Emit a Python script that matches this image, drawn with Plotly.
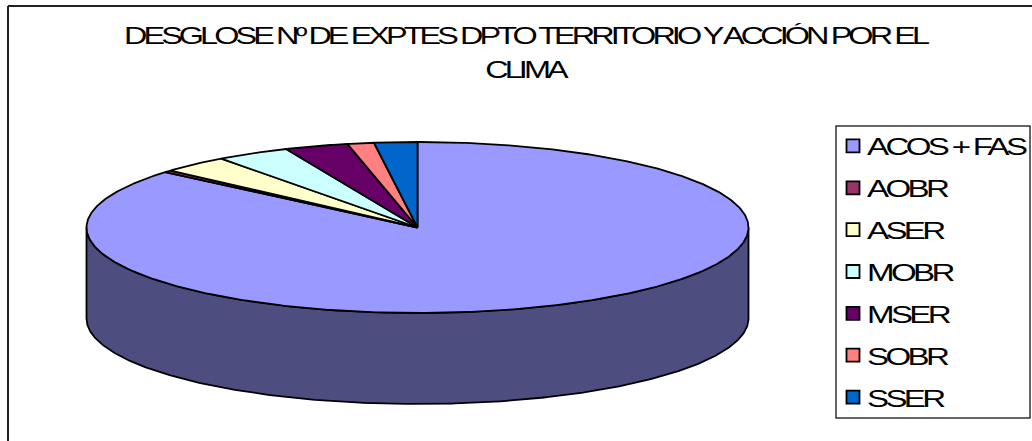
import numpy as np
import plotly.graph_objects as go

categories = ["ACOS + FAS", "AOBR", "ASER", "MOBR", "MSER", "SOBR", "SSER"]
values = [86.2, 0.4, 3.3, 3.6, 3.1, 1.3, 2.1]
colors = ["#9999FF", "#993366", "#FFFFCC", "#CCFFFF", "#660066", "#FF8080", "#0066CC"]
side_colors = ["#4D4D80", "#4D1A33", "#808066", "#668080", "#330033", "#804040", "#003366"]
title_text = "DESGLOSE Nº DE EXPTES DPTO TERRITORIO Y ACCIÓN POR EL<br>CLIMA"

CX, CY, RX, RY, DEPTH = 417.5, 227.5, 331, 85.5, 91
W, H = 1032, 441


def rim(t0, t1):
    t = np.radians(np.linspace(t0, t1, max(int(abs(t1 - t0) * 2), 2) + 1))
    return CX + RX * np.sin(t), CY - RY * np.cos(t)


fig = go.Figure()
edges = np.concatenate([[0], np.cumsum(values)]) / sum(values) * 360

# side wall: only the front half of the rim (90-270 degrees) is visible
for i, name in enumerate(categories):
    a, b = max(edges[i], 90), min(edges[i + 1], 270)
    if b <= a:
        continue
    x, y = rim(a, b)
    fig.add_trace(go.Scatter(
        x=np.concatenate([x, x[::-1], x[:1]]),
        y=np.concatenate([y, y[::-1] + DEPTH, y[:1]]),
        mode="lines", fill="toself", fillcolor=side_colors[i],
        line=dict(color="black", width=1.8), showlegend=False, hoverinfo="skip"))

# top face
for i, name in enumerate(categories):
    x, y = rim(edges[i], edges[i + 1])
    fig.add_trace(go.Scatter(
        x=np.concatenate([[CX], x, [CX]]),
        y=np.concatenate([[CY], y, [CY]]),
        mode="lines", fill="toself", fillcolor=colors[i],
        line=dict(color="black", width=1.8), showlegend=False,
        name=name, hoverinfo="name"))

# legend entries
for i, name in enumerate(categories):
    fig.add_trace(go.Scatter(
        x=[None], y=[None], mode="markers", name=name, legendgroup=name,
        marker=dict(symbol="square", size=13, color=colors[i],
                    line=dict(color="black", width=1.8))))

fig.update_layout(
    width=W, height=H, margin=dict(l=0, r=0, t=0, b=0),
    paper_bgcolor="white", plot_bgcolor="white",
    font=dict(family="Liberation Sans", color="black"),
    title=dict(text=title_text, x=525 / W, xanchor="center", xref="paper",
               y=1 - 44 / H, yref="container", yanchor="middle",
               font=dict(size=24, color="black")),
    xaxis=dict(range=[0, W], visible=False, fixedrange=True),
    yaxis=dict(range=[H, 0], visible=False, fixedrange=True),
    legend=dict(x=833 / W, y=1 - 123.5 / H, xanchor="left", yanchor="top",
                bgcolor="rgba(0,0,0,0)", borderwidth=0, tracegroupgap=7,
                traceorder="grouped", itemwidth=30,
                font=dict(size=24.5, color="black")),
    shapes=[
        dict(type="line", xref="x", yref="y", x0=8, x1=8, y0=6, y1=H, line=dict(color="#222", width=2)),
        dict(type="line", xref="x", yref="y", x0=8, x1=W, y0=6, y1=6, line=dict(color="#222", width=2)),
        dict(type="rect", xref="x", yref="y", x0=836, x1=1030, y0=126, y1=418,
             line=dict(color="#333", width=1.5)),
    ],
)

post = """
document.body.style.margin = '0';
document.documentElement.style.overflow = 'hidden';
document.querySelectorAll('.gtitle').forEach(function (t) {
  t.style.letterSpacing = '-2.9px';
  var lines = t.querySelectorAll('tspan.line');
  if (lines.length > 1) { lines[1].setAttribute('dy', '34.5px'); }
  var cx = 525;
  t.setAttribute('transform', 'translate(' + cx + ',0) scale(1.35,1) translate(' + (-cx) + ',0)');
});
document.querySelectorAll('.legend .scrollbox').forEach(function (s) {
  s.removeAttribute('clip-path');
  s.style.clipPath = 'none';
});
document.querySelectorAll('.legendtext').forEach(function (t) {
  t.style.letterSpacing = '-2.7px';
  var x0 = 34;
  t.setAttribute('x', x0);
  t.setAttribute('transform', 'translate(' + x0 + ',0) scale(1.35,1) translate(' + (-x0) + ',0)');
});
"""
fig.write_html("out.html", post_script=post, config={"displayModeBar": False})
